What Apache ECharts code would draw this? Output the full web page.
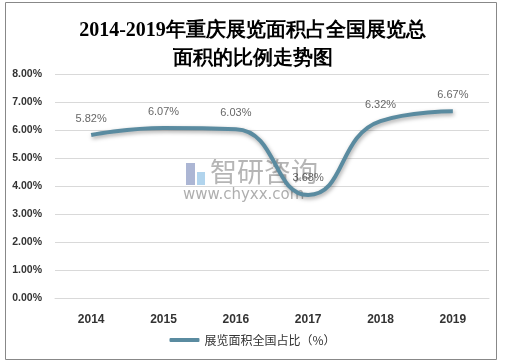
<!DOCTYPE html>
<html><head><meta charset="utf-8">
<script src="https://cdn.jsdelivr.net/npm/echarts@6/dist/echarts.min.js"></script>
<style>html,body{margin:0;padding:0;background:#fff}#c{width:505px;height:363px}</style>
</head><body><div id="c"></div>
<script>
const categories = ['2014','2015','2016','2017','2018','2019'];
const shareValues = [5.82, 6.07, 6.03, 3.68, 6.32, 6.67];
const seriesName = '展览面积全国占比（%）';
const titleText = '2014-2019年重庆展览面积占全国展览总\n面积的比例走势图';

const chart = echarts.init(document.getElementById('c'));
chart.setOption({
  animation: false,
  backgroundColor: '#fff',
  graphic: [
    {type:'rect', shape:{x:5.5,y:2.5,width:491,height:357}, style:{fill:'none', stroke:'#888', lineWidth:1}, z:-1},
    {type:'rect', shape:{x:186,y:163,width:9,height:22}, style:{fill:'rgba(90,110,170,0.5)'}, z:0},
    {type:'rect', shape:{x:197,y:172,width:8,height:13}, style:{fill:'rgba(100,170,220,0.5)'}, z:0},
    {type:'text', left:210, top:158, style:{text:'智研咨询', fill:'rgba(120,120,120,0.55)', font:'27px "Noto Sans CJK SC"'}, z:0},
    {type:'text', left:183, top:188, style:{text:'www.chyxx.com', fill:'rgba(120,120,120,0.6)', font:'15px "DejaVu Sans"'}, z:0}
  ],
  title: {
    text: titleText,
    left: 'center', top: 12,
    textStyle: {fontFamily: 'serif', fontWeight: 'bold', fontSize: 20, lineHeight: 28, color: '#000'}
  },
  legend: {
    bottom: 12, left: 'center',
    itemWidth: 30, itemHeight: 4, itemGap: 2,
    textStyle: {fontSize: 12, color: '#333', fontFamily: '"Noto Sans CJK SC"'},
    data: [{name: seriesName, icon: 'roundRect'}]
  },
  grid: {left: 55, right: 16, top: 74, bottom: 65},
  xAxis: {
    type: 'category', data: categories, boundaryGap: true,
    axisLine: {show: true, lineStyle: {color: '#d9d9d9'}},
    axisTick: {show: false},
    axisLabel: {color: '#333', fontWeight: 'bold', fontSize: 12, margin: 16, fontFamily: '"Liberation Sans"'}
  },
  yAxis: {
    type: 'value', min: 0, max: 8, interval: 1,
    axisLine: {show: false}, axisTick: {show: false},
    splitLine: {lineStyle: {color: '#d9d9d9'}},
    axisLabel: {formatter: v => v.toFixed(2) + '%', color: '#333', fontWeight: 'bold', fontSize: 10.5, margin: 13, fontFamily: '"Liberation Sans"'}
  },
  series: [{
    name: seriesName, type: 'line', data: shareValues,
    smooth: 0.5, symbol: 'none',
    lineStyle: {width: 4, color: '#5a8ba0', shadowColor: 'rgba(0,0,0,0.35)', shadowBlur: 4, shadowOffsetX: 1, shadowOffsetY: 2},
    itemStyle: {color: '#5a8ba0'}
  }, {
    name: 'labels', type: 'scatter', data: shareValues,
    symbolSize: 2, itemStyle: {color: 'rgba(0,0,0,0)'}, silent: true, z: 5,
    label: {show: true, position: 'top', distance: 10, formatter: p => Number(p.value).toFixed(2) + '%', color: '#404040', fontSize: 11, fontFamily: '"Liberation Sans"'}
  }]
});
</script></body></html>
